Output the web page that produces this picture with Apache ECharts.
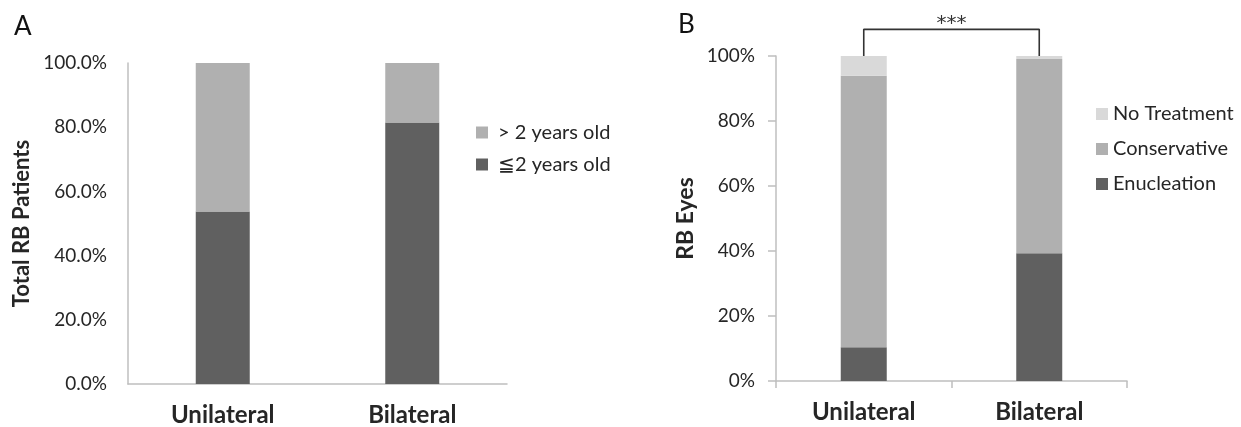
<!DOCTYPE html>
<html>
<head>
<meta charset="utf-8">
<script src="https://cdn.jsdelivr.net/npm/echarts@6/dist/echarts.min.js"></script>
<style>
html,body{margin:0;padding:0;background:#fff;}
#chart{width:1241px;height:427px;}
</style>
</head>
<body>
<div id="chart"></div>
<script>
// ---- Data ----
const categories = ['Unilateral', 'Bilateral'];
// Panel A: Total RB Patients (%)
const ageLe2 = [53.7, 81.5];
const ageGt2 = [46.3, 18.5];
// Panel B: RB Eyes (%)
const enucleation = [10.4, 39.3];
const conservative = [83.5, 59.8];
const noTreatment = [6.1, 0.9];
const yTicksA = [0, 20, 40, 60, 80, 100];
const bracketLevel = 108.2;   // height of significance bracket (in % of axis B)
const sigText = '***';

const FONT = 'Lato, "Open Sans", sans-serif';
const TXT = '#262626';
const AXIS = '#bfbfbf';
const DARK = '#606060', MID = '#b0b0b0', LIGHT = '#d9d9d9';

const chart = echarts.init(document.getElementById('chart'), null, {renderer: 'canvas'});

const option = {
  animation: false,
  backgroundColor: '#fff',
  textStyle: {fontFamily: FONT, color: TXT},
  title: [
    {text: 'A', left: 9, top: 9, textStyle: {fontFamily: FONT, fontSize: 26, fontWeight: 'normal', color: '#111'}},
    {text: 'B', left: 673, top: 7, textStyle: {fontFamily: FONT, fontSize: 26, fontWeight: 'normal', color: '#111'}}
  ],
  legend: [
    {
      data: ['> 2 years old', '≦2 years old'],
      orient: 'vertical', left: 476, top: 122.5, padding: 0,
      itemWidth: 12, itemHeight: 12, itemGap: 12, icon: 'rect',
      formatter: n => ' ' + n,
      textStyle: {fontFamily: FONT, fontSize: 20, color: TXT, lineHeight: 20}
    },
    {
      data: ['No Treatment', 'Conservative', 'Enucleation'],
      orient: 'vertical', left: 1096, top: 104, padding: 0,
      itemWidth: 12, itemHeight: 12, itemGap: 15, icon: 'rect',
      textStyle: {fontFamily: FONT, fontSize: 20, color: TXT, lineHeight: 20}
    }
  ],
  grid: [
    {left: 128, top: 63, width: 379, height: 324, containLabel: false},
    {left: 776, top: 56, width: 351, height: 325, containLabel: false}
  ],
  xAxis: [
    {
      type: 'category', gridIndex: 0, data: categories,
      axisLine: {lineStyle: {color: AXIS, width: 1.5}},
      axisTick: {show: false},
      axisLabel: {fontFamily: FONT, fontSize: 24, fontWeight: 'bold', color: TXT, margin: 19}
    },
    {
      type: 'category', gridIndex: 1, data: categories,
      axisLine: {lineStyle: {color: AXIS, width: 1.5}},
      axisTick: {show: true, length: 7, lineStyle: {color: AXIS, width: 1.5}},
      axisLabel: {fontFamily: FONT, fontSize: 24, fontWeight: 'bold', color: TXT, margin: 19}
    }
  ],
  yAxis: [
    {
      type: 'value', gridIndex: 0, min: yTicksA[0], max: yTicksA[yTicksA.length - 1], interval: 20,
      name: 'Total RB Patients', nameLocation: 'middle', nameGap: 95,
      nameTextStyle: {fontFamily: FONT, fontSize: 22, fontWeight: 'bold', color: TXT},
      axisLine: {show: true, lineStyle: {color: AXIS, width: 1.5}},
      axisTick: {show: false},
      splitLine: {show: false},
      axisLabel: {fontFamily: FONT, fontSize: 19, color: TXT, margin: 21, formatter: v => v.toFixed(1) + '%'}
    },
    {
      type: 'value', gridIndex: 1, min: 0, max: 100, interval: 20,
      name: 'RB Eyes', nameLocation: 'middle', nameGap: 79,
      nameTextStyle: {fontFamily: FONT, fontSize: 23, fontWeight: 'bold', color: TXT},
      axisLine: {show: true, lineStyle: {color: AXIS, width: 1.5}},
      axisTick: {show: true, inside: false, length: 8, lineStyle: {color: AXIS, width: 1.5}},
      splitLine: {show: false},
      axisLabel: {fontFamily: FONT, fontSize: 19, color: TXT, margin: 21, formatter: v => v + '%'}
    }
  ],
  series: [
    {name: '≦2 years old', type: 'bar', stack: 'A', xAxisIndex: 0, yAxisIndex: 0, barWidth: 54,
      itemStyle: {color: DARK}, data: ageLe2},
    {name: '> 2 years old', type: 'bar', stack: 'A', xAxisIndex: 0, yAxisIndex: 0, barWidth: 54,
      itemStyle: {color: MID}, data: ageGt2},
    {name: 'Enucleation', type: 'bar', stack: 'B', xAxisIndex: 1, yAxisIndex: 1, barWidth: 46,
      itemStyle: {color: DARK}, data: enucleation},
    {name: 'Conservative', type: 'bar', stack: 'B', xAxisIndex: 1, yAxisIndex: 1, barWidth: 46,
      itemStyle: {color: MID}, data: conservative},
    {name: 'No Treatment', type: 'bar', stack: 'B', xAxisIndex: 1, yAxisIndex: 1, barWidth: 46,
      itemStyle: {color: LIGHT}, data: noTreatment},
    {
      name: 'bracket', type: 'line', xAxisIndex: 1, yAxisIndex: 1, clip: false,
      symbol: 'none', silent: true,
      lineStyle: {color: '#333', width: 1.6},
      data: [[categories[0], 100], [categories[0], bracketLevel], [categories[1], bracketLevel], [categories[1], 100]]
    }
  ]
};
chart.setOption(option);

// significance stars placed from the library's own coordinate conversion
const p0 = chart.convertToPixel({xAxisIndex: 1, yAxisIndex: 1}, [categories[0], bracketLevel]);
const p1 = chart.convertToPixel({xAxisIndex: 1, yAxisIndex: 1}, [categories[1], bracketLevel]);
chart.setOption({
  graphic: [{
    type: 'text', silent: true,
    x: (p0[0] + p1[0]) / 2, y: p0[1] - 6,
    style: {text: sigText, font: '20px "DejaVu Sans", sans-serif', fill: '#333', align: 'center', verticalAlign: 'middle'}
  }]
});
</script>
</body>
</html>
